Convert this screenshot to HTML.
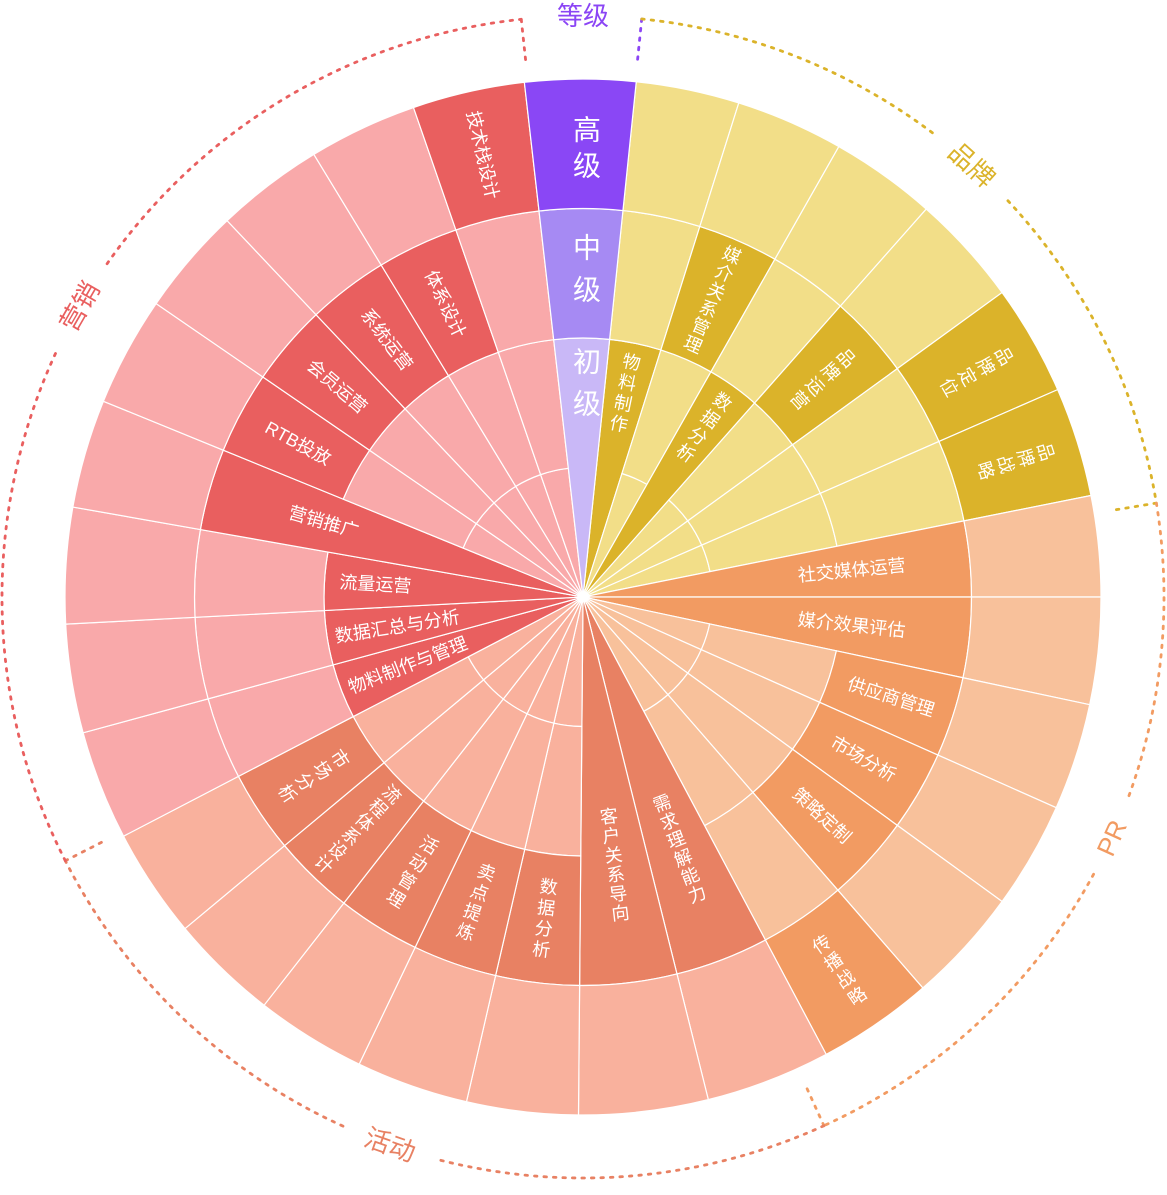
<!DOCTYPE html>
<html><head><meta charset="utf-8">
<style>
html,body{margin:0;padding:0;background:#fff;}
svg{display:block;}
text{font-family:"Liberation Sans","Noto Sans CJK SC",sans-serif;}
</style></head>
<body>
<svg id="s" width="1167" height="1195" viewBox="0 0 1167 1195" xmlns="http://www.w3.org/2000/svg"></svg>
<script>
const cx=583, cy=597, R=[0,129.5,259,388.5,518];
const svg=document.getElementById('s');
const NS="http://www.w3.org/2000/svg";
function P(r,a){const t=a*Math.PI/180;return [cx+r*Math.sin(t), cy-r*Math.cos(t)];}
function sector(r0,r1,a0,a1,fill){
  const p1=P(r1,a0),p2=P(r1,a1),large=(a1-a0)>180?1:0;
  let d=`M${p1[0]},${p1[1]} A${r1},${r1} 0 ${large} 1 ${p2[0]},${p2[1]}`;
  if(r0>0){const p3=P(r0,a1),p4=P(r0,a0);d+=` L${p3[0]},${p3[1]} A${r0},${r0} 0 ${large} 0 ${p4[0]},${p4[1]} Z`;}
  else d+=` L${cx},${cy} Z`;
  const e=document.createElementNS(NS,'path');
  e.setAttribute('d',d);e.setAttribute('fill',fill);e.setAttribute('stroke','#fff');e.setAttribute('stroke-width','1.2');
  svg.appendChild(e);
}
function txt(x,y,rot,s,size,color){
  const e=document.createElementNS(NS,'text');
  e.setAttribute('x',0);e.setAttribute('y',0);
  e.setAttribute('transform',`translate(${x},${y}) rotate(${rot})`);
  e.setAttribute('text-anchor','middle');e.setAttribute('dominant-baseline','central');
  e.setAttribute('font-size',size);e.setAttribute('fill',color);
  e.textContent=s;svg.appendChild(e);
}
const C={
 b:['#f2de88','#dbb32a'],
 p:['#f8c19b','#f29b62'],
 h:['#f9b19d','#e88163'],
 m:['#f9a9aa','#e95f5f']
};
const S=[
 [5.9,17.5,'b',0,1,'物料制作','s'],
 [17.5,29.6,'b',2,2,'媒介关系管理','s'],
 [29.6,41.5,'b',0,1,'数据分析','s'],
 [41.5,54,'b',2,2,'品牌运营','s'],
 [54,66.4,'b',3,3,'品牌定位','s'],
 [66.4,78.7,'b',3,3,'品牌战略','s'],
 [78.7,90,'p',0,2,'社交媒体运营','h'],
 [90,102,'p',0,2,'媒介效果评估','h'],
 [102,114,'p',2,2,'供应商管理','h'],
 [114,126,'p',2,2,'市场分析','h'],
 [126,139,'p',2,2,'策略定制','h'],
 [139,152,'p',3,3,'传播战略','s'],
 [152,166,'h',0,2,'需求理解能力','s'],
 [166,180.5,'h',0,2,'客户关系导向','s'],
 [180.5,193,'h',2,2,'数据分析','s'],
 [193,205.6,'h',2,2,'卖点提炼','s'],
 [205.6,218,'h',2,2,'活动管理','s'],
 [218,230.2,'h',2,2,'流程体系设计','s'],
 [230.2,242.5,'h',2,2,'市场分析','s'],
 [242.5,254.8,'m',0,1,'物料制作与管理','h'],
 [254.8,267,'m',0,1,'数据汇总与分析','h'],
 [267,280,'m',0,1,'流量运营','h'],
 [280,292.2,'m',0,2,'营销推广','h'],
 [292.2,304.5,'m',2,2,'RTB投放','h'],
 [304.5,316.6,'m',2,2,'会员运营','h'],
 [316.6,328.7,'m',2,2,'系统运营','h'],
 [328.7,340.9,'m',2,2,'体系设计','h'],
 [340.9,353.5,'m',3,3,'技术栈设计','h']
];
const labels=[];
for(const s of S){
  const [a0,a1,c,k0,k1,lab,mode]=s;
  for(let k=0;k<4;k++){
    if(k<k0||k>k1) sector(R[k],R[k+1],a0,a1,C[c][0]);
    else if(k===k0) sector(R[k0],R[k1+1],a0,a1,C[c][1]);
  }
  let rl;
  if(k0===0&&k1===1) rl=lab.length>6?188:208; else if(k0===0&&k1===2) rl=270; else rl=(R[k0]+R[k1+1])/2;
  labels.push([ (a0+a1)/2, rl, lab, mode]);
}
sector(0,259,353.5,365.9,'#c9b8f7');
sector(259,388.5,353.5,365.9,'#a68af3');
sector(388.5,518,353.5,365.9,'#8a47f5');
for(const L of labels){
  const [a,r,lab,mode]=L; const [x,y]=P(r,a);
  if(mode==='h'){
    const rot=a<180?a-90:a-270;
    txt(x,y,rot,lab,18,'#fff');
  }else{
    const rot=(a<90||a>270)?a:a-180;
    const n=lab.length, lh=n>5?19.5:21;
    const t=rot*Math.PI/180;
    for(let i=0;i<n;i++){
      const off=(i-(n-1)/2)*lh;
      const dx=-Math.sin(t)*off, dy=Math.cos(t)*off;
      txt(x+dx,y+dy,rot,lab[i],18,'#fff');
    }
  }
}
[['高',130],['级',166],['中',248],['级',290],['初',362],['级',404]].forEach(v=>txt(587,v[1],0,v[0],28,'#fff'));
const RA=581;
function arc(a0,a1,color){
  if(a1<=a0) return;
  const p1=P(RA,a0),p2=P(RA,a1),large=(a1-a0)>180?1:0;
  const e=document.createElementNS(NS,'path');
  e.setAttribute('d',`M${p1[0]},${p1[1]} A${RA},${RA} 0 ${large} 1 ${p2[0]},${p2[1]}`);
  e.setAttribute('fill','none');e.setAttribute('stroke',color);e.setAttribute('stroke-width','2.8');
  e.setAttribute('stroke-dasharray','2.5 7');e.setAttribute('stroke-linecap','round');
  svg.appendChild(e);
}
function tick(a,color){
  const p1=P(RA,a),p2=P(538,a);
  const e=document.createElementNS(NS,'path');
  e.setAttribute('d',`M${p1[0]},${p1[1]} L${p2[0]},${p2[1]}`);
  e.setAttribute('fill','none');e.setAttribute('stroke',color);e.setAttribute('stroke-width','2.8');
  e.setAttribute('stroke-dasharray','2.5 7');e.setAttribute('stroke-linecap','round');
  svg.appendChild(e);
}
const cats=[
 [353.9,365.8,'#8b45f5','等级',360,7],
 [365.8,440.7,'#dbb32a','品牌',402,5],
 [440.7,515.5,'#f29b62','PR',474.5,4],
 [515.5,603,'#e88163','活动',559.4,5],
 [603,713.9,'#e95f5f','营销',660,5]
];
for(const c of cats){
  const [a0,a1,col,lab,am,g]=c;
  arc(a0,am-g,col);arc(am+g,a1,col);
  tick(a1%360,col);
  const a=am%360; const [x,y]=P(RA,a);
  let rot=(a<90||a>270)?a:a-180; if(a>270) rot=a-360;
  txt(x,y,rot,lab,26,col);
}
</script>
</body></html>
